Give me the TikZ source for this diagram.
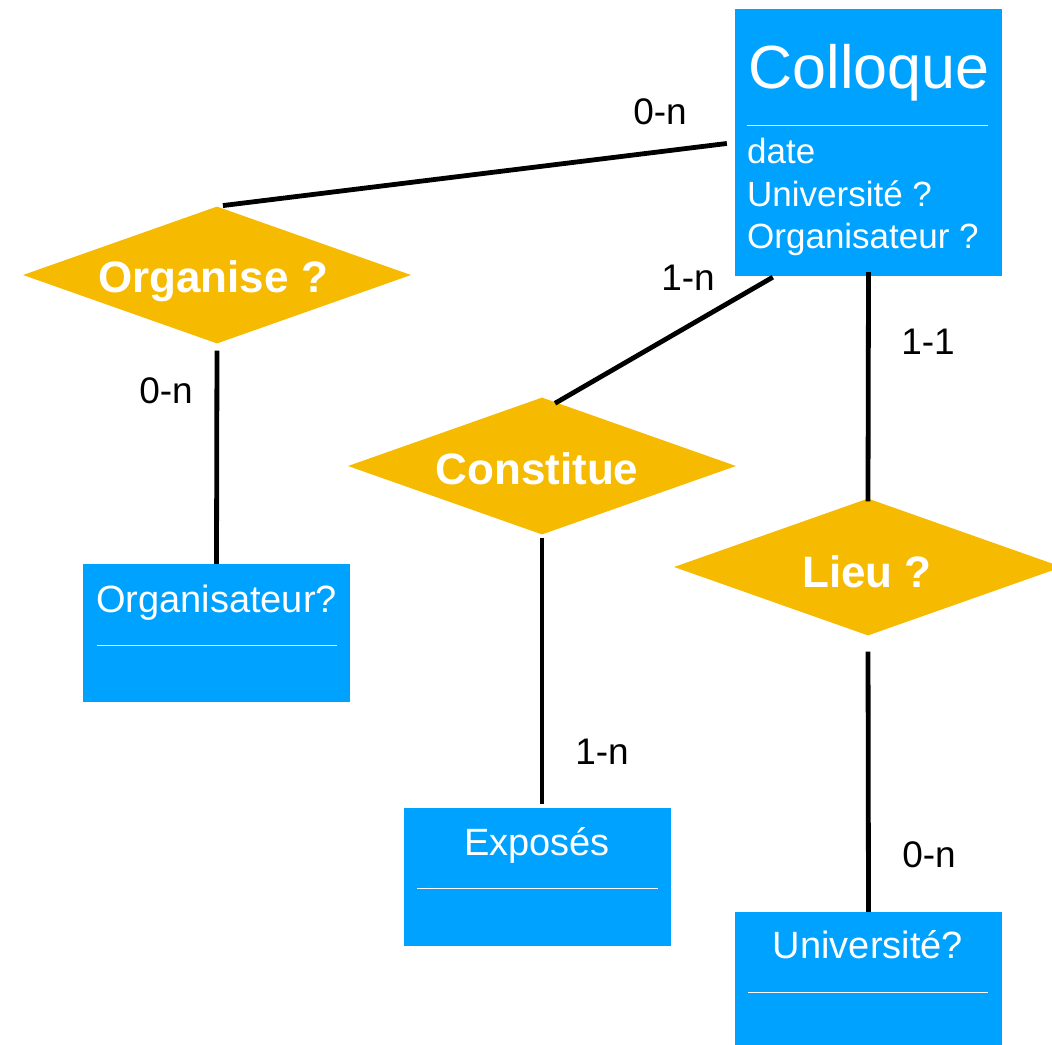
\documentclass[tikz,border=0pt]{standalone}
\usepackage{fontspec}
\setmainfont{Liberation Sans}
\usetikzlibrary{shapes.geometric,calc}
\definecolor{entblue}{RGB}{0,162,255}
\definecolor{relgold}{RGB}{246,186,0}
\begin{document}
\begin{tikzpicture}[x=1pt,y=-1pt,
  entity/.style={rectangle, fill=entblue, inner sep=0pt, minimum width=267pt},
  relation/.style={diamond, fill=relgold, inner sep=0pt, minimum width=388pt, minimum height=137pt},
  sepline/.style={draw=white, line width=0.8pt},
  link/.style={line width=4.8pt, black},
  card/.style={inner sep=0pt, anchor=base, font=\fontsize{37}{44}\selectfont},
  etitle/.style={inner sep=0pt, anchor=base, text=white, font=\fontsize{38}{46}\selectfont},
  rtitle/.style={inner sep=0pt, anchor=base, text=white, font=\bfseries\fontsize{44}{52}\selectfont},
  attr/.style={inner sep=0pt, anchor=base west, text=white, font=\fontsize{35}{42}\selectfont}]
\useasboundingbox (0,0) rectangle (1052,1044);
\clip (0,0) rectangle (1052,1044);

% entities
\node[entity, minimum height=267pt] (colloque) at (868.5,142.5) {};
\node[entity, minimum height=138pt] (organisateur) at (216.5,633) {};
\node[entity, minimum height=138pt] (exposes) at (537,877) {};
\node[entity, minimum height=138pt] (universite) at (868.5,981) {};

% relations
\node[relation] (organise) at (217,275) {};
\node[relation] (constitue) at (542,466) {};
\node[relation] (lieu) at (868,567) {};

% separators
\draw[sepline] ($(colloque.north west)+(12,117)$) -- ($(colloque.north east)+(-14,117)$);
\draw[sepline] ($(organisateur.north west)+(14,82)$) -- ($(organisateur.north east)+(-13,82)$);
\draw[sepline] ($(exposes.north west)+(14,81)$) -- ($(exposes.north east)+(-13,81)$);
\draw[sepline] ($(universite.north west)+(13,81)$) -- ($(universite.north east)+(-14,81)$);

% links
\draw[link, shorten <=8pt, shorten >=6pt] (colloque.west) -- (organise.north);
\draw[link] ($(colloque.south west)+(38,1)$) -- ($(constitue.north)+(13,6)$);
\draw[link, shorten <=7pt] (organise.south) -- (organisateur.north);
\draw[link, shorten <=3pt, shorten >=4pt] (constitue.south) -- (constitue.south |- exposes.north);
\draw[link, shorten <=-4pt, shorten >=-3pt] (colloque.south) -- (lieu.north);
\draw[link, shorten <=16pt] (lieu.south) -- (universite.north);

% texts
\node[inner sep=0pt, anchor=base, text=white, font=\fontsize{61}{70}\selectfont] (colloquetitle) at (869,88) {Colloque};
\node[attr] (attrdate) at (747,163) {date};
\node[attr] (attruniv) at (747,206) {Université ?};
\node[attr] (attrorga) at (747,248) {Organisateur ?};

\node[etitle] (organisateurtitle) at (216.5,612) {Organisateur?};
\node[etitle] (exposestitle) at (537,855) {Exposés};
\node[etitle] (universitetitle) at (868,958) {Université?};

\node[rtitle] (organisetitle) at (213,292) {Organise ?};
\node[rtitle] (constituetitle) at (537,484) {Constitue};
\node[rtitle] (lieutitle) at (867,587) {Lieu ?};

% cardinalities
\node[card] (c1) at (660,124) {0-n};
\node[card] (c2) at (688,290) {1-n};
\node[card] (c3) at (928,354) {1-1};
\node[card] (c4) at (166,403) {0-n};
\node[card] (c5) at (602,764) {1-n};
\node[card] (c6) at (929,867) {0-n};
\end{tikzpicture}
\end{document}
